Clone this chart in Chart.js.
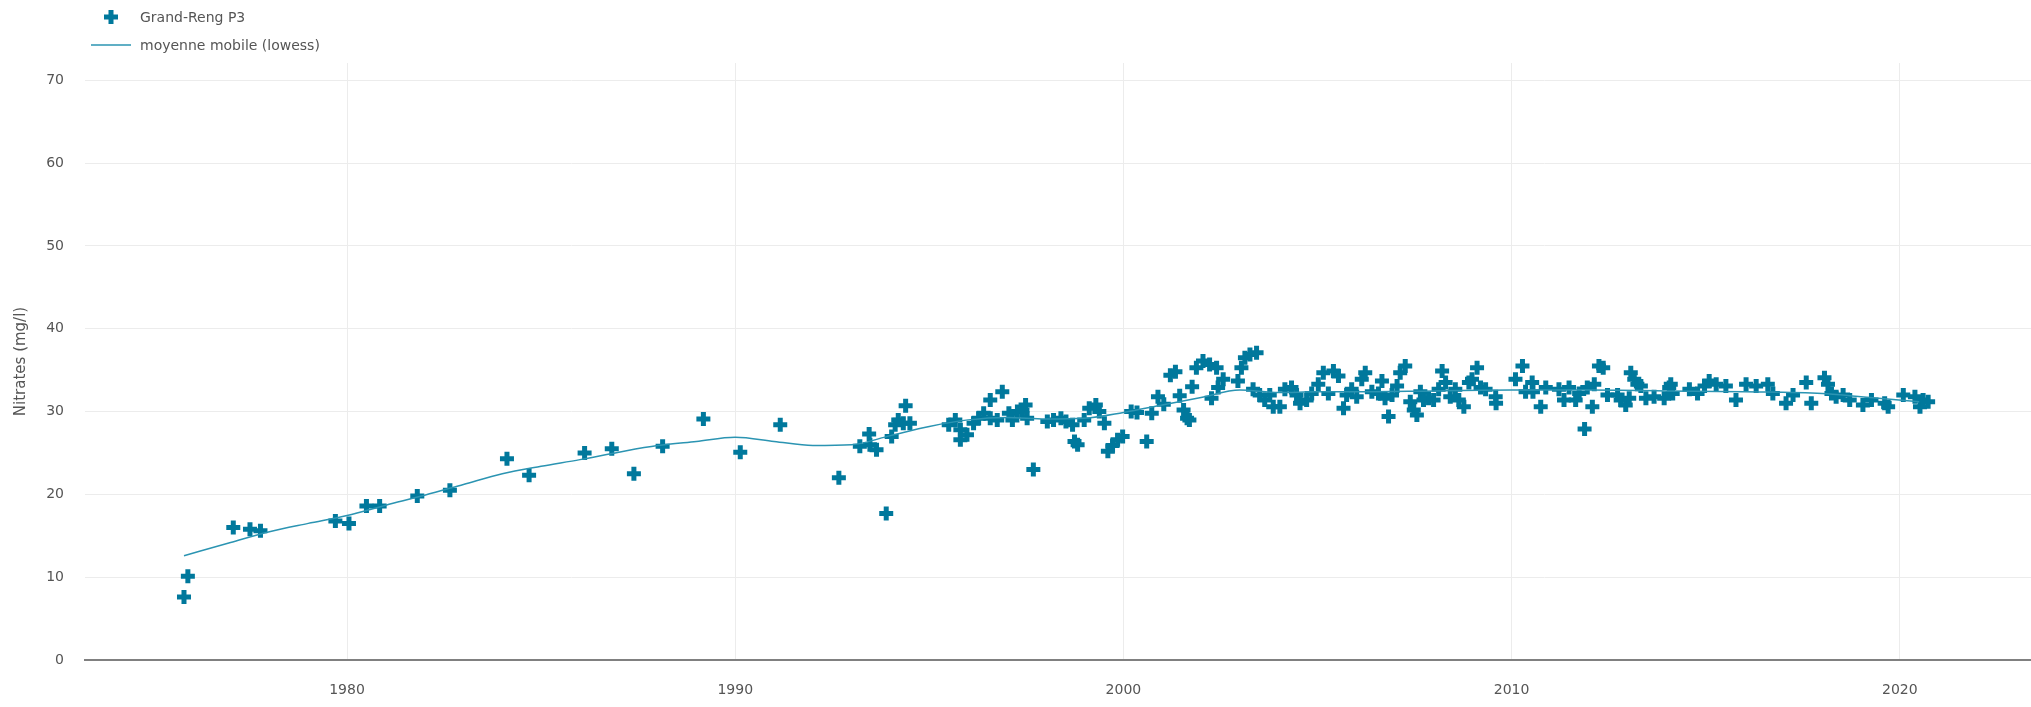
<!DOCTYPE html>
<html>
<head>
<meta charset="utf-8">
<script src="https://cdn.jsdelivr.net/npm/chart.js@4/dist/chart.umd.min.js"></script>
<style>
  html, body { margin: 0; background: #fff; overflow: hidden; }
  #wrap { position: relative; width: 2031px; height: 707px; }
  #nitratesChart { display: block; }
  #legende { position: absolute; left: 0; top: 0; font-family: "DejaVu Sans", Verdana, sans-serif; font-size: 14px; color: #555; }
  .item { position: absolute; white-space: nowrap; line-height: 18px; }
</style>
</head>
<body>
<div id="wrap">
  <canvas id="nitratesChart"></canvas>
  <div id="legende">
    <svg style="position:absolute;left:104px;top:10px" width="14" height="14">
      <rect x="4.5" y="0" width="5" height="14" fill="#00789c"/>
      <rect x="0" y="4.5" width="14" height="5" fill="#00789c"/>
    </svg>
    <div class="item" style="left:140px;top:8px">Grand-Reng P3</div>
    <svg style="position:absolute;left:91px;top:43px" width="40" height="4">
      <line x1="0" y1="2" x2="40" y2="2" stroke="#2b94b2" stroke-width="1.5"/>
    </svg>
    <div class="item" style="left:140px;top:36px">moyenne mobile (lowess)</div>
  </div>
</div>
<script>
// mesures (annee decimale, mg/l)
const jaren = [
  1975.8, 1975.9, 1977.07, 1977.5, 1977.77, 1979.7, 1980.05, 1980.5, 1980.84, 1981.81,
  1982.65, 1984.12, 1984.69, 1986.12, 1986.82, 1987.39, 1988.13, 1989.18, 1990.13, 1991.16,
  1992.67, 1993.21, 1993.45, 1993.47, 1993.64, 1993.89, 1994.03, 1994.12, 1994.2, 1994.33,
  1994.39, 1994.5, 1995.5, 1995.67, 1995.8, 1995.8, 1995.97, 1996.14, 1996.27, 1996.4,
  1996.57, 1996.57, 1996.75, 1996.88, 1997.05, 1997.14, 1997.27, 1997.4, 1997.48, 1997.52,
  1997.68, 1998.04, 1998.2, 1998.39, 1998.52, 1998.69, 1998.74, 1998.82, 1998.99, 1999.12,
  1999.29, 1999.38, 1999.51, 1999.6, 1999.72, 1999.85, 1999.98, 2000.2, 2000.35, 2000.6,
  2000.73, 2000.89, 2001.04, 2001.21, 2001.34, 2001.45, 2001.55, 2001.64, 2001.7, 2001.77,
  2001.88, 2002.05, 2002.22, 2002.4, 2002.27, 2002.44, 2002.57, 2002.95, 2003.04, 2003.13,
  2003.26, 2003.43, 2003.34, 2003.51, 2003.64, 2003.77, 2003.86, 2004.03, 2004.16, 2004.33,
  2004.46, 2004.55, 2004.72, 2004.85, 2005.02, 2005.15, 2005.28, 2005.41, 2005.54, 2005.67,
  2005.75, 2005.88, 2006.01, 2006.14, 2006.23, 2006.4, 2006.57, 2006.66, 2006.83, 2006.74,
  2006.92, 2007.05, 2007.13, 2007.26, 2007.39, 2007.48, 2007.56, 2007.65, 2007.73, 2007.86,
  2007.99, 2008.12, 2008.21, 2008.3, 2008.42, 2008.55, 2008.64, 2008.77, 2008.9, 2008.98,
  2009.11, 2009.2, 2009.33, 2009.59, 2009.6, 2010.1, 2010.28, 2010.36, 2010.53, 2010.55,
  2010.75, 2010.88, 2011.22, 2011.35, 2011.48, 2011.65, 2011.74, 2011.88, 2011.95, 2012.08,
  2012.13, 2012.25, 2012.36, 2012.47, 2012.73, 2012.81, 2012.94, 2013.03, 2013.07, 2013.16,
  2013.24, 2013.33, 2013.46, 2013.67, 2013.93, 2014.06, 2014.1, 2014.15, 2014.58, 2014.79,
  2014.97, 2015.09, 2015.27, 2015.52, 2015.78, 2016.04, 2016.3, 2016.6, 2016.73, 2017.07,
  2017.25, 2017.59, 2017.72, 2018.06, 2018.15, 2018.24, 2018.36, 2018.54, 2018.71, 2019.05,
  2019.27, 2019.61, 2019.7, 2020.09, 2020.39, 2020.52, 2020.6, 2020.73
];
const nitraten = [
  7.6, 10.1, 16.0, 15.8, 15.6, 16.8, 16.5, 18.6, 18.6, 19.8,
  20.5, 24.3, 22.3, 25.0, 25.5, 22.5, 25.8, 29.1, 25.1, 28.4,
  22.0, 25.8, 27.3, 26.0, 25.4, 17.7, 27.0, 28.4, 29.0, 28.6,
  30.7, 28.6, 28.4, 29.0, 27.8, 26.6, 27.2, 28.6, 29.2, 29.8,
  31.4, 29.2, 29.0, 32.4, 29.8, 29.0, 30.0, 30.2, 30.8, 29.2,
  23.0, 28.8, 29.0, 29.2, 28.8, 28.4, 26.4, 26.0, 29.0, 30.4,
  30.8, 30.0, 28.6, 25.2, 25.9, 26.6, 27.0, 30.0, 29.9, 26.4,
  29.8, 31.8, 30.9, 34.4, 34.8, 31.9, 30.2, 29.2, 29.0, 33.0,
  35.3, 36.1, 35.7, 35.3, 31.6, 32.9, 33.9, 33.7, 35.3, 36.5,
  36.9, 37.1, 32.7, 32.0, 31.4, 32.0, 30.6, 30.6, 32.7, 32.9,
  32.0, 31.0, 31.4, 32.2, 33.3, 34.7, 32.2, 34.9, 34.3, 30.4,
  32.0, 32.7, 31.8, 33.9, 34.7, 32.4, 32.2, 33.7, 29.4, 31.6,
  32.0, 33.1, 34.7, 35.5, 31.2, 30.2, 29.6, 32.4, 31.4, 31.6,
  31.4, 32.7, 34.9, 33.5, 31.8, 32.7, 31.4, 30.6, 33.5, 33.9,
  35.3, 32.9, 32.7, 31.8, 31.0, 33.9, 35.5, 32.4, 33.5, 32.4,
  30.6, 32.9, 32.7, 31.4, 32.9, 31.4, 32.2, 27.9, 32.9, 30.6,
  33.3, 35.5, 35.3, 32.0, 32.0, 31.4, 30.8, 31.6, 34.7, 33.9,
  33.3, 33.1, 31.6, 31.8, 31.6, 32.9, 33.3, 32.2, 32.7, 32.2,
  33.1, 33.7, 33.3, 33.1, 31.4, 33.3, 33.1, 33.3, 32.2, 31.0,
  32.0, 33.5, 31.0, 34.1, 33.3, 32.2, 31.8, 32.0, 31.4, 30.8,
  31.4, 31.0, 30.6, 32.0, 31.8, 30.6, 31.4, 31.2
];

const lowessJaren = [
  1975.8, 1977, 1978, 1979, 1980, 1981, 1982, 1983, 1984, 1985,
  1986, 1987, 1988, 1989, 1990, 1991, 1992, 1993, 1994, 1995,
  1996, 1997, 1998, 1999, 2000, 2001, 2002, 2003, 2004, 2005,
  2006, 2008, 2010, 2012, 2014, 2016, 2018, 2019, 2020.5
];
const lowessWaarden = [
  12.6, 14.2, 15.5, 16.5, 17.45, 18.7, 19.9, 21.2, 22.5, 23.4,
  24.2, 25.1, 25.9, 26.4, 26.9, 26.4, 25.9, 26.0, 27.1, 28.2,
  29.0, 29.3, 29.1, 29.2, 29.9, 30.8, 31.7, 32.6, 32.3, 32.4,
  32.4, 32.5, 32.6, 32.6, 32.5, 32.4, 32.2, 31.8, 31.2
];

const xTicks = [1980, 1990, 2000, 2010, 2020];
const yTicks = [0, 10, 20, 30, 40, 50, 60, 70];

const lettertype = { family: '"DejaVu Sans", Verdana, sans-serif', size: 14 };

new Chart(document.getElementById('nitratesChart'), {
  type: 'scatter',
  data: {
    datasets: [
      {
        label: 'Grand-Reng P3',
        data: jaren.map((j, i) => ({ x: j, y: nitraten[i] })),
        pointStyle: 'cross',
        pointRadius: 7,
        pointBorderWidth: 5,
        borderColor: '#00789c',
        backgroundColor: '#00789c',
        showLine: false,
        order: 1
      },
      {
        label: 'moyenne mobile (lowess)',
        data: lowessJaren.map((j, i) => ({ x: j, y: lowessWaarden[i] })),
        showLine: true,
        pointRadius: 0,
        borderColor: '#2b94b2',
        borderWidth: 1.5,
        cubicInterpolationMode: 'monotone',
        fill: false,
        order: 0
      }
    ]
  },
  options: {
    responsive: true,
    maintainAspectRatio: false,
    animation: false,
    layout: { autoPadding: false, padding: { top: 63, right: 0, left: 0, bottom: 0 } },
    plugins: {
      legend: { display: false },
      tooltip: { enabled: false }
    },
    scales: {
      x: {
        type: 'linear',
        min: 1973.25,
        max: 2023.38,
        afterBuildTicks: (s) => { s.ticks = xTicks.map(v => ({ value: v })); },
        afterFit: (s) => { s.height = 47; s.paddingLeft = 0; s.paddingRight = 0; },
        ticks: { color: '#555', font: lettertype, padding: 22, callback: (v) => String(v) },
        grid: { color: '#ececec', lineWidth: 1, drawTicks: false },
        border: { display: true, color: '#808080', width: 2 }
      },
      y: {
        min: 0,
        max: 72.1,
        afterBuildTicks: (s) => { s.ticks = yTicks.map(v => ({ value: v })); },
        afterFit: (s) => { s.width = 85; s.paddingTop = 0; s.paddingBottom = 0; },
        ticks: { color: '#555', font: lettertype, padding: 21 },
        grid: { color: '#ececec', lineWidth: 1, drawTicks: false },
        border: { display: false },
        title: {
          display: true,
          text: 'Nitrates (mg/l)',
          color: '#555',
          font: { family: '"DejaVu Sans", Verdana, sans-serif', size: 15 },
          padding: { top: 12, bottom: 0 }
        }
      }
    }
  }
});
</script>
</body>
</html>
